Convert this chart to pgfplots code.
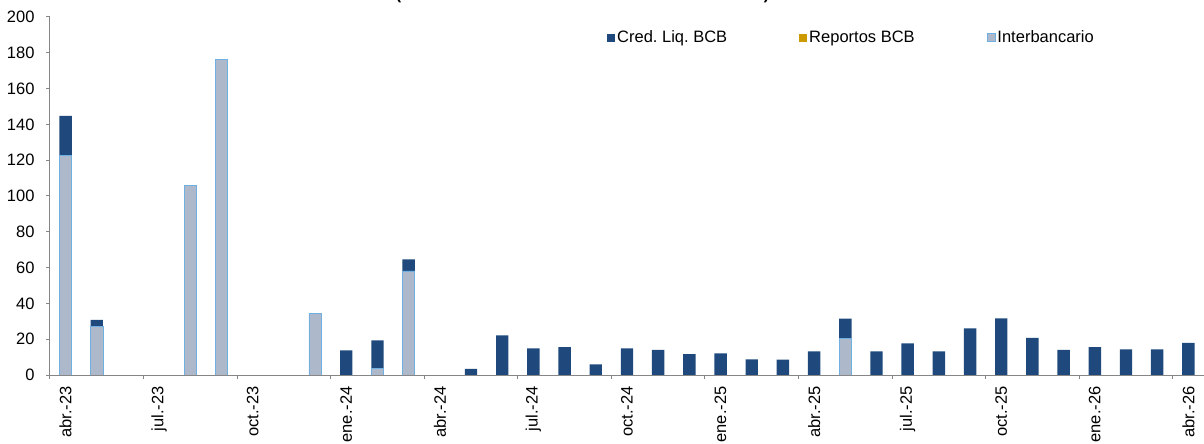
\documentclass[border=0pt]{standalone}
\usepackage{fontspec}
\setmainfont{Liberation Sans}
\usepackage{pgfplots}
\pgfplotsset{compat=1.18}
\definecolor{cred}{RGB}{31,73,125}
\definecolor{repo}{RGB}{204,153,0}
\definecolor{inter}{RGB}{173,185,202}
\definecolor{interedge}{RGB}{110,176,226}
\definecolor{axgray}{RGB}{134,134,134}
\begin{document}
\frenchspacing
\begin{tikzpicture}
\begin{axis}[
  at={(50bp,69bp)}, anchor=south west, scale only axis,
  width=1154bp, height=358bp,
  xmin=-0.5, xmax=36.5, ymin=0, ymax=200,
  ybar stacked, bar width=12.4bp,
  axis on top,
  axis x line*=bottom, axis y line*=left,
  axis line style={draw=axgray, line width=1bp},
  every tick/.style={draw=axgray, line width=1bp},
  tick align=outside, major tick length=4bp,
  ytick={0,20,...,200},
  xtick={-0.5,2.5,...,35.5}, xticklabels={},
  extra x ticks={0,3,...,36},
  extra x tick labels={abr.-23,jul.-23,oct.-23,ene.-24,abr.-24,jul.-24,oct.-24,ene.-25,abr.-25,jul.-25,oct.-25,ene.-26,abr.-26},
  extra x tick style={major tick length=0pt},
  tick label style={font=\fontsize{16.5bp}{19bp}\selectfont, text=black},
  xticklabel style={rotate=90, anchor=east},
  xticklabel shift=8bp,
  yticklabel shift=8bp,
  /pgf/number format/assume math mode=true,
  legend columns=3, reverse legend,
  legend style={at={(0.4827,0.9427)}, anchor=west, draw=none, fill=none,
    inner sep=0pt, font=\fontsize{16.5bp}{19bp}\selectfont,
    /tikz/every even column/.append style={column sep=70bp}},
]
\addplot[fill=inter, draw=interedge, line width=0.8bp,
  legend image code/.code={\draw[fill=inter, draw=interedge, line width=0.8bp] (0bp,-4bp) rectangle (8bp,4bp);}]
coordinates {(0,122.8) (1,27.2) (2,0) (3,0) (4,105.9) (5,176.2) (6,0) (7,0) (8,34.5) (9,0)
 (10,3.5) (11,58.1) (12,0) (13,0) (14,0) (15,0) (16,0) (17,0) (18,0) (19,0)
 (20,0) (21,0) (22,0) (23,0) (24,0) (25,20.5) (26,0) (27,0) (28,0) (29,0)
 (30,0) (31,0) (32,0) (33,0) (34,0) (35,0) (36,0)};
\addlegendentry{Interbancario}
\addplot[fill=repo, draw=none,
  legend image code/.code={\fill[repo] (0bp,-4bp) rectangle (8bp,4bp);}]
coordinates {(0,0) (1,0) (2,0) (3,0) (4,0) (5,0) (6,0) (7,0) (8,0) (9,0)
 (10,0) (11,0) (12,0) (13,0) (14,0) (15,0) (16,0) (17,0) (18,0) (19,0)
 (20,0) (21,0) (22,0) (23,0) (24,0) (25,0) (26,0) (27,0) (28,0) (29,0)
 (30,0) (31,0) (32,0) (33,0) (34,0) (35,0) (36,0)};
\addlegendentry{Reportos BCB}
\addplot[fill=cred, draw=none,
  legend image code/.code={\fill[cred] (0bp,-4bp) rectangle (8bp,4bp);}]
coordinates {(0,22.0) (1,3.6) (2,0) (3,0) (4,0) (5,0) (6,0) (7,0) (8,0) (9,13.8)
 (10,15.9) (11,6.5) (12,0) (13,3.4) (14,22.2) (15,14.9) (16,15.6) (17,6.0) (18,14.9) (19,14.0)
 (20,11.6) (21,12.1) (22,8.7) (23,8.6) (24,13.2) (25,11.0) (26,13.2) (27,17.7) (28,13.2) (29,26.1)
 (30,31.7) (31,20.7) (32,14.0) (33,15.6) (34,14.3) (35,14.3) (36,17.9)};
\addlegendentry{Cred. Liq. BCB}
\end{axis}
\node[anchor=base, font=\bfseries\fontsize{16bp}{19bp}\selectfont] at (582.5bp,444.3bp) {(En millones de bolivianos al cierre de cada mes)};
\pgfresetboundingbox
\path[use as bounding box] (0bp,0bp) rectangle (1204bp,444bp);
\end{tikzpicture}
\end{document}
